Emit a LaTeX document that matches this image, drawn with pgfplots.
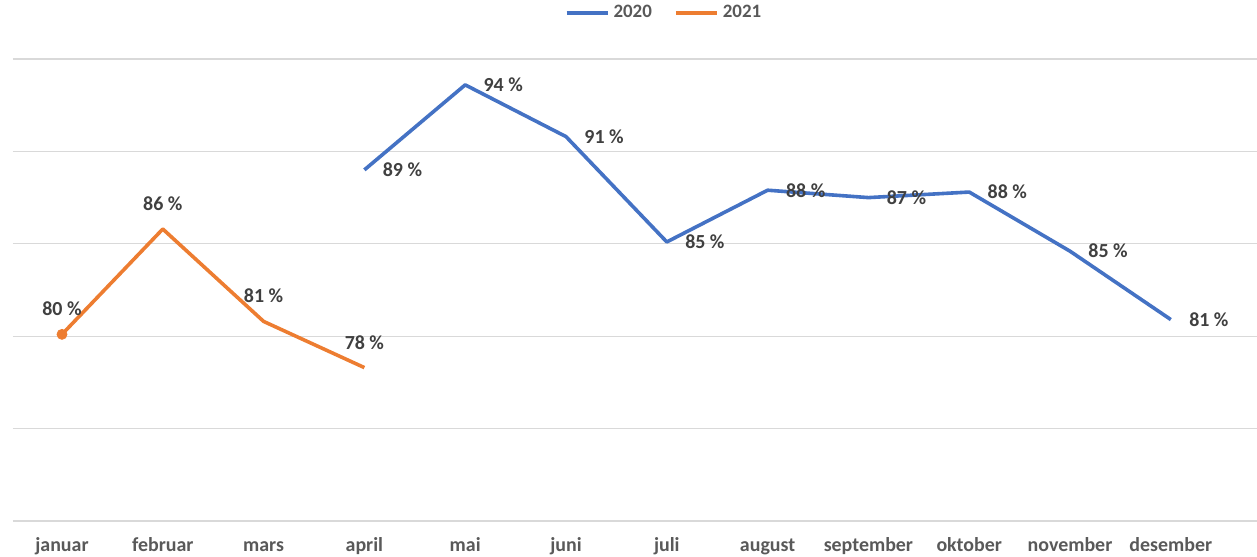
\documentclass[border=0pt]{standalone}
\usepackage{fontspec}
\setmainfont{Carlito}
\usepackage{pgfplots}
\pgfplotsset{compat=1.18}
\definecolor{blue2020}{HTML}{4472C4}
\definecolor{orange2021}{HTML}{ED7D31}
\definecolor{lblgray}{HTML}{404040}
\definecolor{tickgray}{HTML}{595959}
\definecolor{gridgray}{HTML}{D9D9D9}
\begin{document}
\begin{tikzpicture}
  \path[use as bounding box] (-6.5bp,-18bp) rectangle (622bp,260.5bp);
  \begin{axis}[
    at={(0,0)}, anchor=south west,
    scale only axis,
    width=622bp, height=231bp,
    xmin=-0.486, xmax=11.855,
    ymin=0.7, ymax=0.95,
    ytick={0.7,0.75,0.8,0.85,0.9,0.95},
    yticklabels={},
    xtick={0,...,11},
    xticklabels={januar,februar,mars,april,mai,juni,juli,august,september,oktober,november,desember},
    major tick length=0,
    axis line style={draw=none},
    ymajorgrids,
    grid style={gridgray, line width=0.6bp},
    xticklabel style={font=\fontsize{10}{11}\selectfont\bfseries, text=tickgray,
      text height=1.6ex, text depth=0.4ex, yshift=-4bp},
    clip=false,
    point meta=explicit symbolic,
    legend columns=2,
    legend style={at={(0.524,1)}, anchor=center, yshift=23bp, draw=none,
      font=\fontsize{9.5}{10}\selectfont\bfseries, text=tickgray,
      /tikz/every even column/.append style={column sep=9bp}},
    legend image code/.code={\draw[#1, line width=2bp] (0bp,0bp) -- (20.5bp,0bp);},
  ]
    \addplot[blue2020, line width=1.8bp, line join=round,
      nodes near coords,
      nodes near coords style={font=\fontsize{10}{11}\selectfont\bfseries, text=lblgray, anchor=west, xshift=5bp}]
      coordinates {
      (3,0.890) [89 \%]
      (4,0.936) [94 \%]
      (5,0.908) [91 \%]
      (6,0.851) [85 \%]
      (7,0.879) [88 \%]
      (8,0.875) [87 \%]
      (9,0.878) [88 \%]
      (10,0.846) [85 \%]
      (11,0.809) [81 \%]
    };
    \addlegendentry{2020}
    \addplot[orange2021, line width=1.8bp, line join=round,
      nodes near coords,
      nodes near coords style={font=\fontsize{10}{11}\selectfont\bfseries, text=lblgray, anchor=south, yshift=5bp}]
      coordinates {
      (0,0.801) [80 \%]
      (1,0.858) [86 \%]
      (2,0.808) [81 \%]
      (3,0.783) [78 \%]
    };
    \addlegendentry{2021}
    \addplot[orange2021, only marks, mark=*, mark size=2.5bp, forget plot]
      coordinates {(0,0.801) []};
  \end{axis}
\end{tikzpicture}
\end{document}
